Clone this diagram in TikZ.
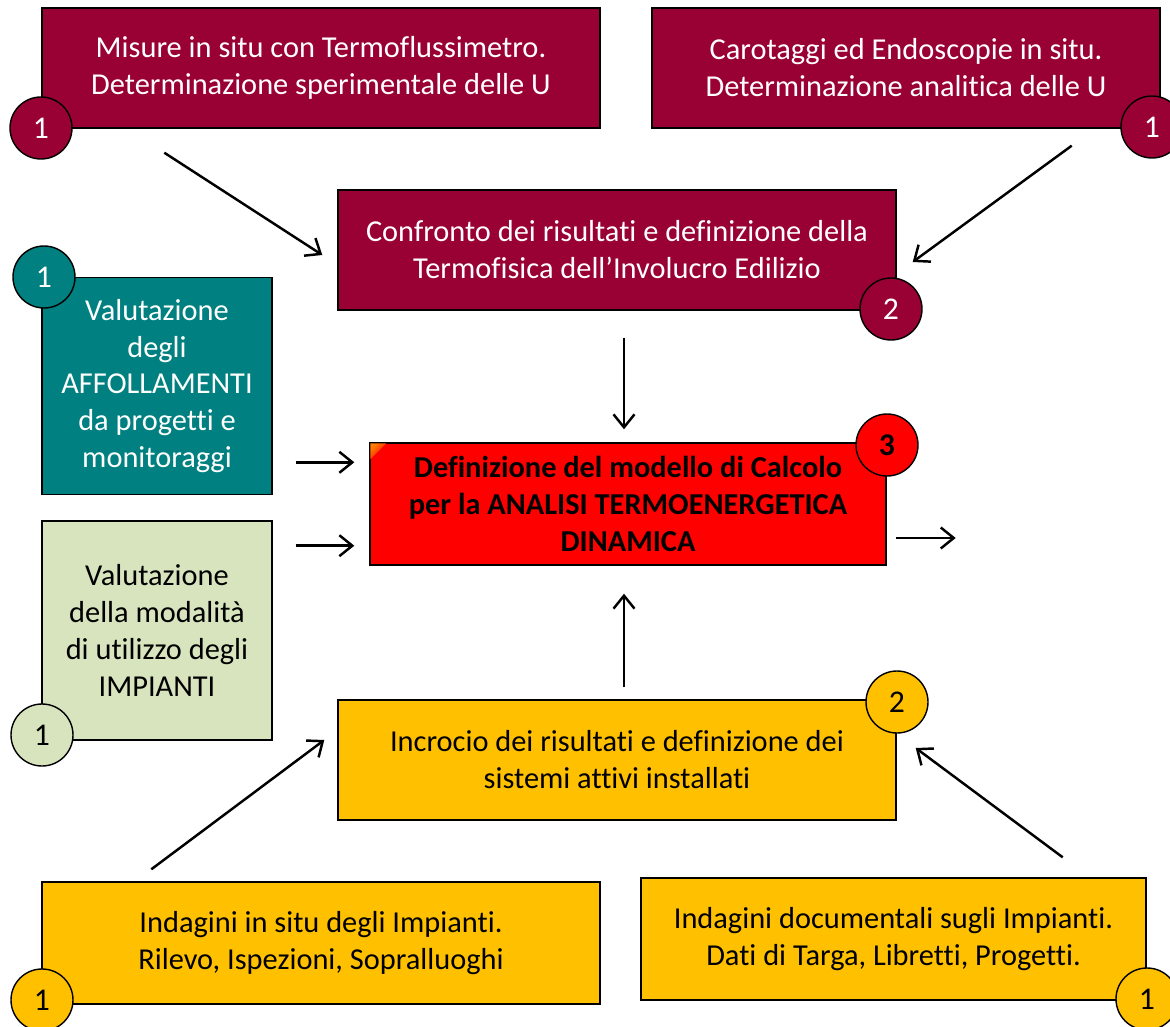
\documentclass[tikz,border=0pt]{standalone}
\usepackage{fontspec}
\setmainfont[Ligatures=NoCommon]{Carlito}
\usetikzlibrary{positioning,arrows.meta}
\newlength\pix
\setlength\pix{0.02cm}
\definecolor{bordeaux}{RGB}{153,0,51}
\definecolor{petrolio}{RGB}{0,128,128}
\definecolor{salvia}{RGB}{216,228,189}
\definecolor{ambra}{RGB}{255,192,0}
\tikzset{
  >={Straight Barb[length=2.6mm,width=4.2mm]},
  freccia/.style={line width=1.4pt, ->},
  scatola/.style={draw=black, line width=0.8pt, align=center, inner sep=2pt,
    font=\fontsize{17.3}{21}\selectfont},
  numero/.style={circle, draw=black, line width=0.8pt, minimum size=62\pix,
    inner sep=0pt, font=\fontsize{18}{21}\selectfont},
}

\begin{document}
\begin{tikzpicture}[x=0.02cm,y=-0.02cm]
  \useasboundingbox (0,0) rectangle (1170,1027);

  % boxes
  \node[scatola, fill=bordeaux, text=white, minimum width=558\pix, minimum height=120\pix]
    (misure) at (321,68) {Misure in situ con Termoflussimetro.\\Determinazione sperimentale delle U};
  \node[scatola, fill=bordeaux, text=white, minimum width=508\pix, minimum height=120\pix]
    (carotaggi) at (906,68) {Carotaggi ed Endoscopie in situ.\\Determinazione analitica delle U};
  \node[scatola, fill=bordeaux, text=white, minimum width=558\pix, minimum height=120\pix]
    (confronto) at (617,250) {Confronto dei risultati e definizione della\\Termofisica dell’Involucro Edilizio};
  \node[scatola, fill=petrolio, text=white, minimum width=230\pix, minimum height=217\pix]
    (affoll) at (157,386) {Valutazione\\degli\\AFFOLLAMENTI\\da progetti e\\monitoraggi};
  \node[scatola, fill=red, minimum width=516\pix, minimum height=122\pix, font=\fontsize{17.3}{21}\selectfont\bfseries]
    (modello) at (628,504) {Definizione del modello di Calcolo\\per la ANALISI TERMOENERGETICA\\DINAMICA};
  \shade[left color=orange, right color=red, shading angle=45]
    ([shift={(1,1)}]modello.north west) -- ++(16,0) -- ++(-16,16) -- cycle;
  \node[scatola, fill=salvia, minimum width=230\pix, minimum height=219\pix]
    (utilizzo) at (157,630.5) {Valutazione\\della modalità\\di utilizzo degli\\IMPIANTI};
  \node[scatola, fill=ambra, minimum width=558\pix, minimum height=120\pix]
    (incrocio) at (617,760) {Incrocio dei risultati e definizione dei\\sistemi attivi installati};
  \node[scatola, fill=ambra, minimum width=558\pix, minimum height=122\pix]
    (indagini) at (321,943) {Indagini in situ degli Impianti.\\Rilevo, Ispezioni, Sopralluoghi};
  \node[scatola, fill=ambra, minimum width=505\pix, minimum height=122\pix]
    (documenti) at (893.5,939) {Indagini documentali sugli Impianti.\\Dati di Targa, Libretti, Progetti.};

  % numbers
  \node[numero, fill=bordeaux, text=white] (n-misure) at (41,128) {1};
  \node[numero, fill=bordeaux, text=white] (n-carotaggi) at (1152,127) {1};
  \node[numero, fill=bordeaux, text=white] (n-confronto) at (891,309) {2};
  \node[numero, fill=petrolio, text=white] (n-affoll) at (44,277) {1};
  \node[numero, fill=red, font=\fontsize{18}{21}\selectfont\bfseries] (n-modello) at (887,445) {3};
  \node[numero, fill=salvia] (n-utilizzo) at (42,735) {1};
  \node[numero, fill=ambra] (n-incrocio) at (897,702) {2};
  \node[numero, fill=ambra] (n-indagini) at (42,1000) {1};
  \node[numero, fill=ambra] (n-documenti) at (1147,999) {1};

  % arrows
  \draw[freccia] ([shift={(123,24)}]misure.south west) -- ([shift={(-15,5)}]confronto.west);
  \draw[freccia] ([shift={(-89,17)}]carotaggi.south east) -- ([shift={(16,12)}]confronto.east);
  \draw[freccia] ([shift={(7,27)}]confronto.south) -- ([shift={(-4,-13)}]modello.north);
  \coordinate (in-affoll) at ([shift={(-15,20)}]modello.north west);
  \coordinate (in-utilizzo) at ([shift={(-15,-20)}]modello.south west);
  \draw[freccia] ([xshift=23\pix]affoll.east |- in-affoll) -- (in-affoll);
  \draw[freccia] ([xshift=23\pix]utilizzo.east |- in-utilizzo) -- (in-utilizzo);
  \coordinate (uscita) at ([shift={(69,34)}]modello.east);
  \draw[freccia] ([shift={(9,34)}]modello.east) -- (uscita);
  \draw[freccia] ([shift={(7,-12)}]incrocio.north) -- ([shift={(-4,28)}]modello.south);
  \draw[freccia] ([shift={(110,-12)}]indagini.north west) -- ([shift={(-13,-20)}]incrocio.west);
  \draw[freccia] ([shift={(-84,-20)}]documenti.north east) -- ([shift={(19,-12)}]incrocio.east);
\end{tikzpicture}
\end{document}
